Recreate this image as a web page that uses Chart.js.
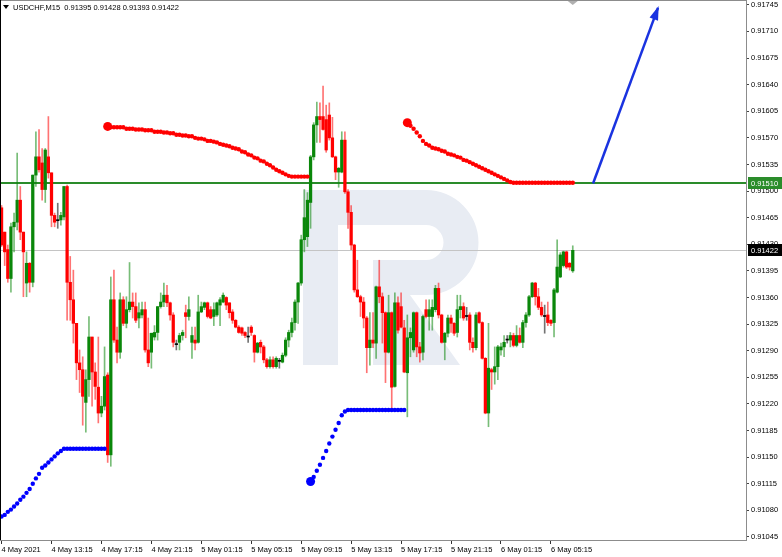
<!DOCTYPE html>
<html lang="en">
<head>
<meta charset="UTF-8">
<title>USDCHF M15</title>
<script src="https://cdn.jsdelivr.net/npm/chart.js@4"></script>
<style>
    html, body { margin: 0; padding: 0; background: #fff; }
    #wrap { width: 782px; height: 557px; }
</style>
</head>
<body>
<div id="wrap"><canvas id="chart"></canvas></div>
<script>
// --- data ---
const symbol = 'USDCHF,M15';
const timeLabels = ['4 May 2021', '4 May 13:15', '4 May 17:15', '4 May 21:15', '5 May 01:15', '5 May 05:15',
    '5 May 09:15', '5 May 13:15', '5 May 17:15', '5 May 21:15', '6 May 01:15', '6 May 05:15'];
const barsPerLabel = 16;     // 4 hours of M15 bars between time labels
const slotCount = 239;       // bar slots on screen, incl. the empty shift on the right
const priceTicks = [0.91045, 0.91080, 0.91115, 0.91150, 0.91185, 0.91220, 0.91255, 0.91290, 0.91325, 0.91360,
    0.91395, 0.91430, 0.91465, 0.91500, 0.91535, 0.91570, 0.91605, 0.91640, 0.91675, 0.91710, 0.91745];
const priceMin = 0.91041, priceMax = 0.91750;
const levelPrice = 0.91510;

const opens = [
    0.91478,0.91446,0.91423,0.91385,0.91453,0.91459,0.91488,0.91446,0.91379,0.91405,
    0.91380,0.91521,0.91545,0.91537,0.91502,0.91545,0.91524,0.91468,0.91461,0.91462,
    0.91466,0.91506,0.91380,0.91357,0.91326,0.91274,0.91265,0.91222,0.91252,0.91308,
    0.91262,0.91242,0.91208,0.91217,0.91258,0.91153,0.91357,0.91304,0.91288,0.91357,
    0.91326,0.91344,0.91354,0.91348,0.91333,0.91337,0.91344,0.91291,0.91288,0.91308,
    0.91314,0.91348,0.91354,0.91363,0.91353,0.91337,0.91298,0.91301,0.91310,0.91340,
    0.91335,0.91301,0.91304,0.91301,0.91341,0.91347,0.91353,0.91344,0.91335,0.91337,
    0.91350,0.91354,0.91360,0.91353,0.91341,0.91330,0.91321,0.91320,0.91314,0.91308,
    0.91321,0.91310,0.91288,0.91301,0.91295,0.91278,0.91269,0.91278,0.91269,0.91276,
    0.91275,0.91284,0.91304,0.91314,0.91327,0.91354,0.91379,0.91436,0.91440,0.91485,
    0.91545,0.91587,0.91598,0.91598,0.91594,0.91600,0.91570,0.91545,0.91525,0.91525,
    0.91567,0.91499,0.91472,0.91429,0.91370,0.91361,0.91354,0.91333,0.91294,0.91304,
    0.91300,0.91374,0.91361,0.91340,0.91288,0.91340,0.91243,0.91353,0.91348,0.91320,
    0.91261,0.91307,0.91291,0.91340,0.91295,0.91288,0.91344,0.91335,0.91335,0.91344,
    0.91372,0.91337,0.91301,0.91313,0.91333,0.91326,0.91314,0.91344,0.91348,0.91335,
    0.91337,0.91301,0.91294,0.91340,0.91327,0.91280,0.91208,0.91265,0.91262,0.91269,
    0.91291,0.91295,0.91304,0.91304,0.91310,0.91297,0.91310,0.91301,0.91327,0.91337,
    0.91361,0.91379,0.91361,0.91347,0.91335,0.91337,0.91330,0.91327,0.91367,0.91387,
    0.91402,0.91420,0.91405,0.91395
];
const highs = [
    0.91481,0.91446,0.91429,0.91458,0.91471,0.91550,0.91506,0.91446,0.91420,0.91406,
    0.91521,0.91578,0.91581,0.91556,0.91556,0.91598,0.91524,0.91471,0.91484,0.91472,
    0.91506,0.91508,0.91414,0.91396,0.91326,0.91291,0.91282,0.91265,0.91335,0.91308,
    0.91274,0.91308,0.91230,0.91295,0.91261,0.91387,0.91396,0.91321,0.91366,0.91361,
    0.91361,0.91406,0.91366,0.91366,0.91353,0.91354,0.91354,0.91333,0.91313,0.91323,
    0.91348,0.91366,0.91379,0.91376,0.91354,0.91340,0.91304,0.91313,0.91317,0.91350,
    0.91361,0.91321,0.91321,0.91363,0.91354,0.91354,0.91354,0.91348,0.91353,0.91354,
    0.91360,0.91366,0.91361,0.91353,0.91344,0.91331,0.91323,0.91321,0.91315,0.91321,
    0.91323,0.91311,0.91301,0.91304,0.91297,0.91280,0.91282,0.91282,0.91282,0.91280,
    0.91287,0.91307,0.91317,0.91333,0.91357,0.91380,0.91442,0.91502,0.91498,0.91547,
    0.91590,0.91617,0.91616,0.91638,0.91613,0.91616,0.91597,0.91546,0.91531,0.91578,
    0.91578,0.91502,0.91481,0.91430,0.91409,0.91363,0.91360,0.91335,0.91340,0.91340,
    0.91375,0.91409,0.91366,0.91341,0.91363,0.91341,0.91366,0.91361,0.91366,0.91330,
    0.91337,0.91320,0.91341,0.91341,0.91301,0.91337,0.91357,0.91357,0.91357,0.91376,
    0.91379,0.91338,0.91314,0.91337,0.91337,0.91327,0.91363,0.91363,0.91353,0.91347,
    0.91340,0.91307,0.91340,0.91341,0.91328,0.91281,0.91326,0.91267,0.91295,0.91297,
    0.91300,0.91310,0.91310,0.91314,0.91313,0.91323,0.91320,0.91330,0.91340,0.91363,
    0.91380,0.91380,0.91372,0.91354,0.91350,0.91354,0.91331,0.91372,0.91436,0.91419,
    0.91421,0.91421,0.91406,0.91428
];
const lows = [
    0.91427,0.91402,0.91380,0.91367,0.91420,0.91449,0.91436,0.91361,0.91361,0.91367,
    0.91374,0.91506,0.91525,0.91488,0.91485,0.91517,0.91453,0.91453,0.91451,0.91455,
    0.91462,0.91330,0.91330,0.91300,0.91252,0.91235,0.91192,0.91183,0.91230,0.91217,
    0.91226,0.91195,0.91203,0.91212,0.91143,0.91138,0.91301,0.91274,0.91280,0.91323,
    0.91320,0.91341,0.91333,0.91327,0.91320,0.91333,0.91288,0.91269,0.91267,0.91304,
    0.91304,0.91346,0.91348,0.91348,0.91330,0.91295,0.91291,0.91291,0.91304,0.91307,
    0.91330,0.91280,0.91291,0.91300,0.91340,0.91344,0.91333,0.91332,0.91323,0.91335,
    0.91323,0.91353,0.91344,0.91333,0.91326,0.91320,0.91313,0.91310,0.91307,0.91301,
    0.91310,0.91275,0.91287,0.91287,0.91274,0.91267,0.91267,0.91267,0.91267,0.91267,
    0.91274,0.91282,0.91295,0.91308,0.91317,0.91326,0.91376,0.91420,0.91427,0.91451,
    0.91541,0.91564,0.91564,0.91580,0.91551,0.91567,0.91544,0.91515,0.91505,0.91524,
    0.91497,0.91451,0.91423,0.91367,0.91360,0.91335,0.91320,0.91261,0.91271,0.91294,
    0.91280,0.91353,0.91300,0.91248,0.91287,0.91212,0.91242,0.91313,0.91320,0.91261,
    0.91203,0.91282,0.91288,0.91282,0.91275,0.91278,0.91333,0.91317,0.91317,0.91341,
    0.91333,0.91300,0.91278,0.91308,0.91314,0.91310,0.91308,0.91333,0.91330,0.91330,
    0.91291,0.91288,0.91291,0.91326,0.91279,0.91207,0.91190,0.91239,0.91246,0.91252,
    0.91284,0.91282,0.91300,0.91295,0.91295,0.91295,0.91300,0.91294,0.91321,0.91335,
    0.91360,0.91350,0.91344,0.91335,0.91313,0.91323,0.91323,0.91308,0.91366,0.91386,
    0.91400,0.91398,0.91396,0.91393
];
const closes = [
    0.91429,0.91420,0.91385,0.91453,0.91459,0.91488,0.91446,0.91420,0.91405,0.91380,
    0.91521,0.91545,0.91528,0.91502,0.91554,0.91524,0.91468,0.91459,0.91461,0.91468,
    0.91506,0.91380,0.91357,0.91326,0.91274,0.91265,0.91230,0.91252,0.91308,0.91262,
    0.91243,0.91208,0.91217,0.91256,0.91153,0.91357,0.91304,0.91288,0.91357,0.91326,
    0.91344,0.91354,0.91348,0.91330,0.91340,0.91344,0.91291,0.91274,0.91313,0.91314,
    0.91348,0.91354,0.91363,0.91353,0.91337,0.91301,0.91298,0.91310,0.91314,0.91335,
    0.91344,0.91310,0.91300,0.91341,0.91348,0.91353,0.91335,0.91333,0.91344,0.91353,
    0.91357,0.91363,0.91350,0.91340,0.91330,0.91321,0.91314,0.91313,0.91310,0.91308,
    0.91314,0.91288,0.91300,0.91295,0.91278,0.91269,0.91278,0.91269,0.91280,0.91276,
    0.91284,0.91304,0.91314,0.91327,0.91354,0.91379,0.91436,0.91465,0.91488,0.91545,
    0.91587,0.91598,0.91594,0.91581,0.91554,0.91570,0.91545,0.91525,0.91530,0.91567,
    0.91499,0.91472,0.91429,0.91370,0.91361,0.91354,0.91333,0.91294,0.91304,0.91300,
    0.91374,0.91361,0.91340,0.91288,0.91340,0.91242,0.91353,0.91317,0.91321,0.91262,
    0.91307,0.91314,0.91340,0.91295,0.91287,0.91335,0.91335,0.91344,0.91347,0.91372,
    0.91337,0.91301,0.91313,0.91333,0.91326,0.91313,0.91344,0.91348,0.91333,0.91335,
    0.91301,0.91294,0.91337,0.91327,0.91280,0.91208,0.91267,0.91262,0.91269,0.91295,
    0.91295,0.91301,0.91304,0.91310,0.91297,0.91310,0.91301,0.91327,0.91337,0.91361,
    0.91379,0.91361,0.91347,0.91337,0.91335,0.91327,0.91326,0.91370,0.91400,0.91416,
    0.91420,0.91400,0.91400,0.91422
];

// trailing dot indicator, one value per bar from the given start bar
const blueStart1 = 0;
const blueDots1 = [0.91072,0.91074,0.91078,0.91081,0.91085,0.91089,0.91094,0.91098,0.91103,0.91108,
    0.91115,0.91122,0.91128,0.91136,0.91139,0.91143,0.91147,0.91151,0.91155,0.91158,
    0.91161,0.91161,0.91161,0.91161,0.91161,0.91161,0.91161,0.91161,0.91161,0.91161,
    0.91161,0.91161,0.91161,0.91161];
const redStart1 = 34;
const redDots1 = [0.91585,0.91584,0.91584,0.91584,0.91584,0.91584,0.91582,0.91582,0.91582,0.91581,
    0.91581,0.91581,0.91580,0.91580,0.91580,0.91578,0.91578,0.91578,0.91577,0.91577,
    0.91576,0.91576,0.91574,0.91574,0.91573,0.91573,0.91572,0.91572,0.91570,0.91569,
    0.91569,0.91568,0.91566,0.91566,0.91565,0.91564,0.91562,0.91561,0.91560,0.91559,
    0.91557,0.91556,0.91555,0.91552,0.91551,0.91548,0.91547,0.91544,0.91543,0.91540,
    0.91539,0.91536,0.91534,0.91531,0.91528,0.91526,0.91524,0.91522,0.91520,0.91519,
    0.91519,0.91519,0.91519,0.91519,0.91519];
const blueStart2 = 99;
const blueDots2 = [0.91118,0.91124,0.91132,0.91140,0.91149,0.91158,0.91168,0.91177,0.91186,0.91195,
    0.91205,0.91210,0.91212,0.91212,0.91212,0.91212,0.91212,0.91212,0.91212,0.91212,
    0.91212,0.91212,0.91212,0.91212,0.91212,0.91212,0.91212,0.91212,0.91212,0.91212,
    0.91212];
const redStart2 = 130;
const redDots2 = [0.91590,0.91586,0.91582,0.91577,0.91572,0.91566,0.91562,0.91560,0.91557,0.91556,
    0.91555,0.91553,0.91552,0.91549,0.91548,0.91547,0.91545,0.91544,0.91541,0.91540,
    0.91538,0.91536,0.91534,0.91532,0.91530,0.91528,0.91526,0.91524,0.91522,0.91520,
    0.91518,0.91516,0.91514,0.91512,0.91511,0.91511,0.91511,0.91511,0.91511,0.91511,
    0.91511,0.91511,0.91511,0.91511,0.91511,0.91511,0.91511,0.91511,0.91511,0.91511,
    0.91511,0.91511,0.91511,0.91511];

// forecast arrow (bar index, price)
const arrowPath = [{ x: 189.5, y: 0.91510 }, { x: 210.3, y: 0.91741 }];

// --- styling ---
const upColor = 'rgb(10,135,10)', downColor = 'rgb(255,0,0)', dojiColor = 'rgb(0,0,0)';
const wickAlpha = 0.55;
const fontFamily = "'Liberation Sans', Arial, sans-serif";
const last = closes.length - 1;

function candleColor(i, alpha) {
    let c = dojiColor;
    if (closes[i] - opens[i] > 1e-9) c = upColor;
    else if (opens[i] - closes[i] > 1e-9) c = downColor;
    return alpha ? c.replace('rgb', 'rgba').replace(')', ',' + alpha + ')') : c;
}

// segment that starts on screen gets a big first dot
function dotSet(start, values, color, bigFirst) {
    return {
        type: 'line',
        data: values.map((v, k) => ({ x: start + k, y: v })),
        showLine: false,
        pointRadius: values.map((v, k) => (bigFirst && k === 0) ? 4.5 : 2.2),
        pointBackgroundColor: color,
        pointBorderWidth: 0,
        order: 0
    };
}

const idx = opens.map((v, i) => i);

Chart.defaults.font.family = fontFamily;
Chart.defaults.font.size = 7.5;
Chart.defaults.color = '#000';

const decor = {
    id: 'decor',
    beforeDatasetsDraw(chart) {
        const { ctx, chartArea: a, scales: { x, y } } = chart;
        ctx.save();
        // broker watermark
        ctx.fillStyle = '#e8ecf3';
        ctx.fillRect(303, 190, 35, 175);
        ctx.beginPath();
        ctx.moveTo(338, 190);
        ctx.lineTo(426, 190);
        ctx.arc(426, 242.5, 52.5, -Math.PI / 2, Math.PI / 2);
        ctx.lineTo(373, 295);
        ctx.lineTo(373, 260);
        ctx.lineTo(426, 260);
        ctx.arc(426, 242.5, 17.5, Math.PI / 2, -Math.PI / 2, true);
        ctx.lineTo(338, 225);
        ctx.closePath();
        ctx.fill();
        ctx.beginPath();
        ctx.moveTo(373, 295);
        ctx.lineTo(410, 295);
        ctx.lineTo(460, 365);
        ctx.lineTo(373, 365);
        ctx.closePath();
        ctx.fill();

        // bid line
        const yb = Math.round(y.getPixelForValue(closes[last]));
        ctx.fillStyle = '#c4c4c4';
        ctx.fillRect(a.left, yb, a.right - a.left, 1);
        // horizontal level
        const yl = Math.round(y.getPixelForValue(levelPrice));
        ctx.fillStyle = '#2a8c2a';
        ctx.fillRect(a.left, yl - 1, a.right - a.left, 2);
        ctx.restore();
    },
    afterDatasetsDraw(chart) {
        const { ctx, chartArea: a, scales: { x, y } } = chart;
        ctx.save();
        // arrow head
        const p0 = { x: x.getPixelForValue(arrowPath[0].x), y: y.getPixelForValue(arrowPath[0].y) };
        const p1 = { x: x.getPixelForValue(arrowPath[1].x), y: y.getPixelForValue(arrowPath[1].y) };
        const ang = Math.atan2(p1.y - p0.y, p1.x - p0.x);
        const len = 12, half = 4.5;
        const cs = Math.cos(ang), sn = Math.sin(ang);
        ctx.fillStyle = '#1a33e0';
        ctx.beginPath();
        ctx.moveTo(p1.x + cs * 2, p1.y + sn * 2);
        ctx.lineTo(p1.x - len * cs + half * sn, p1.y - len * sn - half * cs);
        ctx.lineTo(p1.x - len * cs - half * sn, p1.y - len * sn + half * cs);
        ctx.closePath();
        ctx.fill();

        // frame
        ctx.fillStyle = '#8c8c8c';
        ctx.fillRect(a.left, 0, a.right - a.left, 1);
        ctx.fillRect(a.right, 0, 1, a.bottom + 1);
        ctx.fillRect(a.left, a.bottom, a.right - a.left + 1, 1);
        ctx.fillStyle = '#000';
        ctx.fillRect(0, 0, 1, a.bottom);

        // shift marker
        const mx = x.getPixelForValue(last);
        ctx.fillStyle = '#b0b0b0';
        ctx.beginPath();
        ctx.moveTo(mx - 5, 1);
        ctx.lineTo(mx + 5, 1);
        ctx.lineTo(mx, 5);
        ctx.closePath();
        ctx.fill();

        // price boxes on the axis
        ctx.font = '7.5px ' + fontFamily;
        ctx.textBaseline = 'middle';
        ctx.textAlign = 'left';
        function priceBox(price, bg) {
            const py = Math.round(y.getPixelForValue(price));
            ctx.fillStyle = bg;
            ctx.fillRect(a.right + 2, py - 6, 34, 12);
            ctx.fillStyle = '#fff';
            ctx.fillText(price.toFixed(5), a.right + 5, py + 0.5);
        }
        priceBox(levelPrice, '#2a8c2a');
        priceBox(closes[last], '#000');

        // header line
        ctx.fillStyle = '#000';
        ctx.beginPath();
        ctx.moveTo(3, 5);
        ctx.lineTo(9, 5);
        ctx.lineTo(6, 9);
        ctx.closePath();
        ctx.fill();
        const ohlc = [opens[last], highs[last], lows[last], closes[last]].map(v => v.toFixed(5)).join(' ');
        ctx.fillText(symbol + '  ' + ohlc, 13, 7.5);
        ctx.restore();
    }
};

new Chart(document.getElementById('chart'), {
    type: 'bar',
    data: {
        datasets: [
            {
                // wicks
                data: idx.map(i => ({ x: i, y: [lows[i], highs[i]] })),
                backgroundColor: idx.map(i => candleColor(i, wickAlpha)),
                barThickness: 1,
                grouped: false,
                order: 2
            },
            {
                // bodies
                data: idx.map(i => ({ x: i, y: [opens[i], closes[i]] })),
                backgroundColor: idx.map(i => candleColor(i)),
                barThickness: 2.6,
                minBarLength: 1,
                grouped: false,
                order: 1
            },
            dotSet(blueStart1, blueDots1, '#0000ff', false),
            dotSet(redStart1, redDots1, '#ff0000', true),
            dotSet(blueStart2, blueDots2, '#0000ff', true),
            dotSet(redStart2, redDots2, '#ff0000', true),
            {
                type: 'line',
                data: arrowPath,
                borderColor: '#1a33e0',
                borderWidth: 2.5,
                pointRadius: 0,
                order: 0
            }
        ]
    },
    options: {
        responsive: true,
        maintainAspectRatio: false,
        animation: false,
        layout: { autoPadding: false, padding: { top: 1, left: 0, right: 0, bottom: 0 } },
        plugins: {
            legend: { display: false },
            tooltip: { enabled: false }
        },
        scales: {
            x: {
                type: 'linear',
                offset: false,
                min: -0.5,
                max: slotCount - 0.5,
                border: { display: false },
                grid: { offset: false, drawOnChartArea: false, tickLength: 4, color: '#333' },
                ticks: {
                    autoSkip: false,
                    maxRotation: 0,
                    align: 'start',
                    padding: 1,
                    callback: (v, i) => timeLabels[i]
                },
                afterBuildTicks: s => { s.ticks = timeLabels.map((t, k) => ({ value: k * barsPerLabel })); },
                afterFit: s => { s.height = 17; s.paddingLeft = 0; s.paddingRight = 0; }
            },
            y: {
                type: 'linear',
                position: 'right',
                beginAtZero: false,
                min: priceMin,
                max: priceMax,
                border: { display: false },
                grid: { drawOnChartArea: false, tickLength: 3, color: '#444' },
                ticks: {
                    autoSkip: false,
                    padding: 2,
                    callback: v => v.toFixed(5)
                },
                afterBuildTicks: s => { s.ticks = priceTicks.map(v => ({ value: v })); },
                afterFit: s => { s.width = 36; s.paddingTop = 0; s.paddingBottom = 0; }
            }
        }
    },
    plugins: [decor]
});
</script>
</body>
</html>
